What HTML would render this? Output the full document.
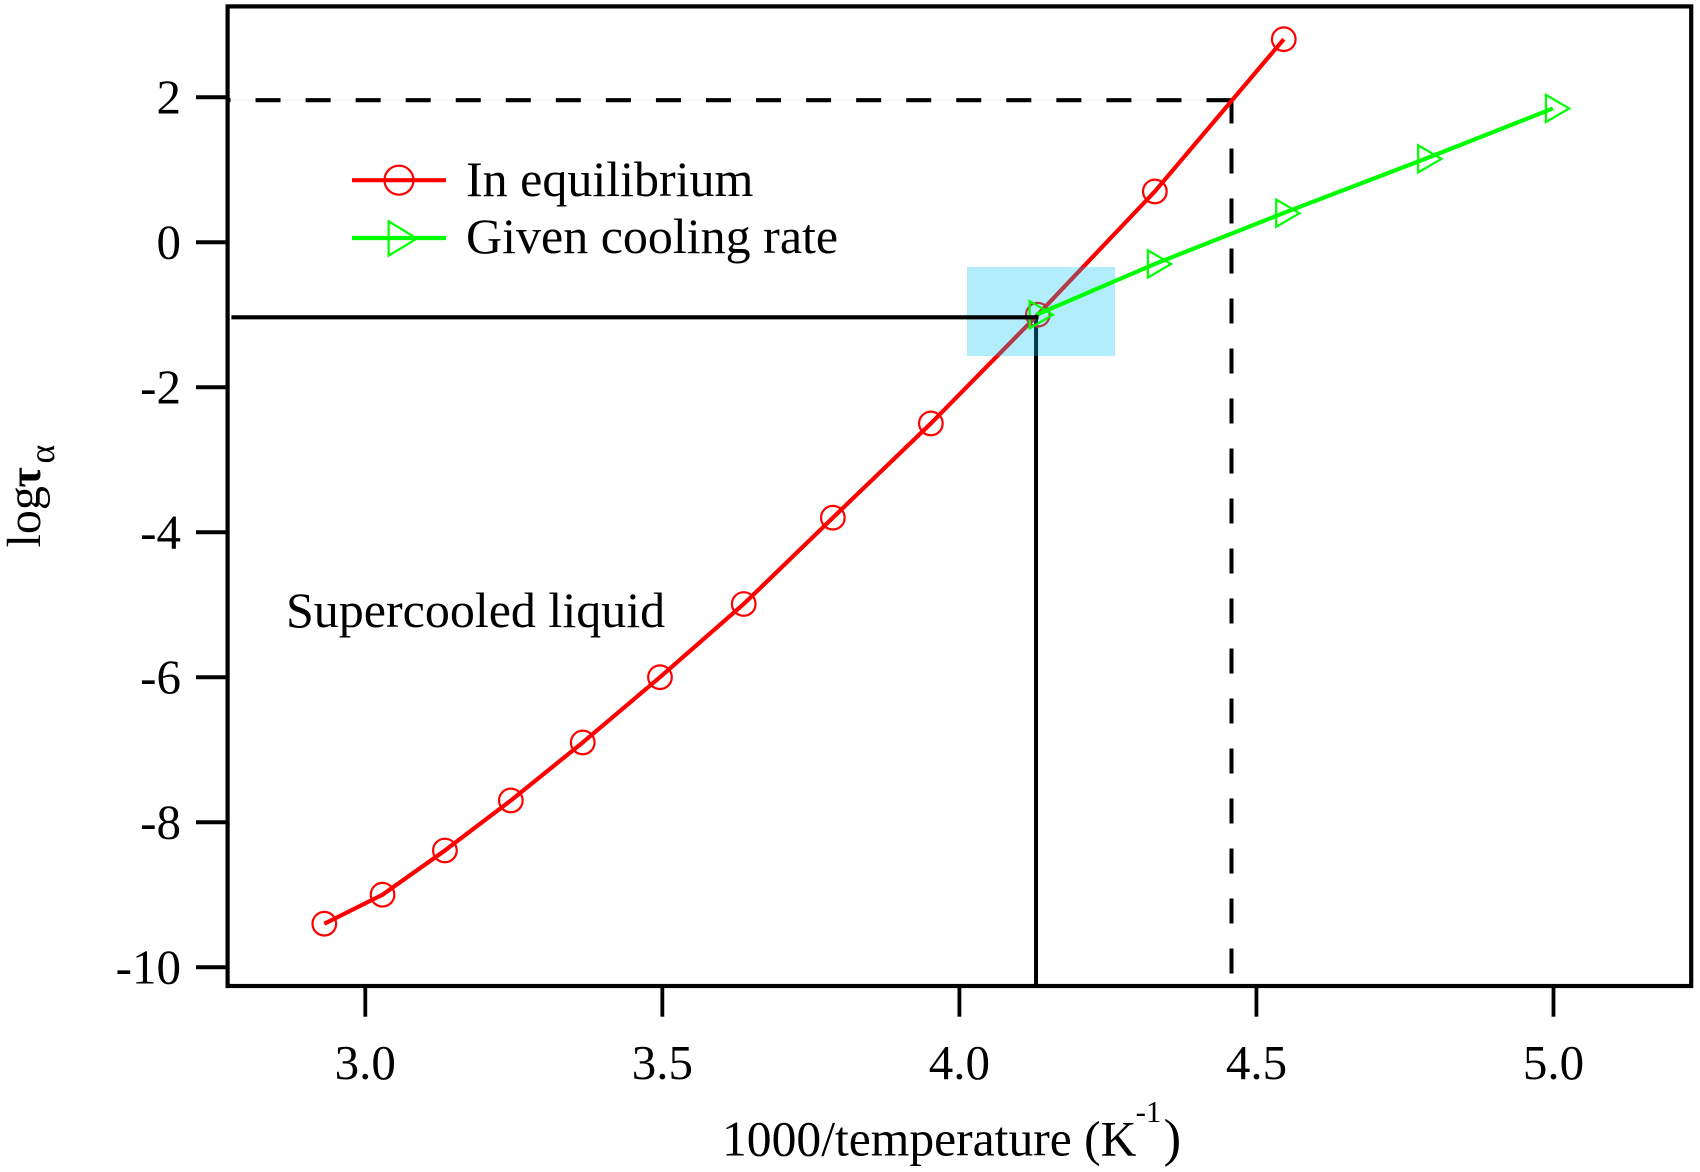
<!DOCTYPE html>
<html lang="en">
<head>
<meta charset="utf-8">
<title>log tau vs 1000/temperature</title>
<style>
  html, body { margin: 0; padding: 0; background: #fff; }
  svg { display: block; }
  text { font-family: "Liberation Serif", "DejaVu Serif", serif; fill: #000; }
</style>
</head>
<body>
<svg id="chart" xmlns="http://www.w3.org/2000/svg" width="1700" height="1172" viewBox="0 0 1700 1172">
  <rect x="0" y="0" width="1700" height="1172" fill="#fff"/>
  <g id="under"></g>
  <g id="over"></g>

  <rect x="227.6" y="6.4" width="1463.6" height="979.6" fill="none" stroke="#000" stroke-width="4.2"/>
  <g id="axes"></g>

  <text x="722" y="1155.5" font-size="49.6">1000/temperature (K</text>
  <text x="1135.6" y="1122" font-size="31">-1</text>
  <text x="1163.5" y="1155.5" font-size="53">)</text>

  <g transform="translate(40,547.5) rotate(-90)">
    <text x="0" y="0" font-size="48">log</text>
    <text x="60" y="0" font-size="44" font-weight="bold">τ</text>
    <text x="84" y="14" font-size="36">α</text>
  </g>

  <g>
    <g>
      <line x1="352" y1="180.2" x2="446" y2="180.2" stroke="#ff0000" stroke-width="4.2"/>
      <circle cx="399" cy="180.2" r="14.5" fill="none" stroke="#ff0000" stroke-width="2.2"/>
      <text x="466" y="196" font-size="50">In equilibrium</text>
    </g>
    <g>
      <line x1="352" y1="238" x2="446" y2="238" stroke="#00ff00" stroke-width="4.2"/>
      <polygon points="388.6,221.3 388.6,255.7 417,238.5" fill="none" stroke="#00ff00" stroke-width="2.2"/>
      <text x="466" y="253" font-size="50">Given cooling rate</text>
    </g>
  </g>

  <text x="286" y="626.8" font-size="50">Supercooled liquid</text>
</svg>

<script>
const xTicks = [3.0, 3.5, 4.0, 4.5, 5.0];
const xTickLabels = ["3.0", "3.5", "4.0", "4.5", "5.0"];
const yTicks = [2, 0, -2, -4, -6, -8, -10];
const yTickLabels = ["2", "0", "-2", "-4", "-6", "-8", "-10"];

const equilibriumX = [2.931, 3.029, 3.134, 3.245, 3.366, 3.496, 3.637, 3.787, 3.952, 4.132, 4.329, 4.546];
const equilibriumY = [-9.40, -9.00, -8.39, -7.70, -6.90, -6.00, -4.99, -3.80, -2.50, -1.00, 0.70, 2.80];
const coolingX = [4.130, 4.329, 4.545, 4.784, 4.999];
const coolingY = [-1.00, -0.30, 0.40, 1.149, 1.845];

const solidGuideX = 4.129;
const solidGuideY = -1.036;
const dashedGuideX = 4.458;
const dashedGuideY = 1.959;
const highlightX = [4.0128, 4.2619];
const highlightY = [-0.342, -1.570];

function sx(v) { return 365.3 + 594.1 * (v - 3); }
function sy(v) { return 242.2 - 72.5 * v; }

const NS = "http://www.w3.org/2000/svg";
function make(tag, parent, attrs) {
  const el = document.createElementNS(NS, tag);
  for (const k in attrs) el.setAttribute(k, attrs[k]);
  parent.appendChild(el);
  return el;
}

const under = document.getElementById("under");
const over = document.getElementById("over");
const axes = document.getElementById("axes");
const LEFT = 227.6, BOTTOM = 986;

/* solid vertical guide, below the highlight */
const solidV = make("line", under, { x1: sx(solidGuideX), y1: sy(solidGuideY), x2: sx(solidGuideX), y2: BOTTOM, stroke: "#000", "stroke-width": 4 });



/* dashed guides */
const hair = make("line", under, { x1: LEFT, y1: sy(dashedGuideY), x2: sx(dashedGuideX), y2: sy(dashedGuideY), stroke: "#eeeeee", "stroke-width": 1 });



const dashH = make("line", under, { x1: sx(dashedGuideX), y1: sy(dashedGuideY), x2: LEFT, y2: sy(dashedGuideY), stroke: "#000", "stroke-width": 4.2, "stroke-dasharray": "25 25.05" });



const dashV = make("line", under, { x1: sx(dashedGuideX), y1: sy(dashedGuideY) - 1.7, x2: sx(dashedGuideX), y2: 973.5, stroke: "#000", "stroke-width": 4, "stroke-dasharray": "25 25" });



/* equilibrium series */
const redPoints = equilibriumX.map(function (x, i) { return sx(x) + "," + sy(equilibriumY[i]); }).join(" ");
const redLine = make("polyline", under, { points: redPoints, fill: "none", stroke: "#ff0000", "stroke-width": 4.2, "stroke-linejoin": "round" });



equilibriumX.forEach(function (x, i) {
  const c = make("circle", under, { cx: sx(x), cy: sy(equilibriumY[i]), r: 11.8, fill: "none", stroke: "#ff0000", "stroke-width": 2.2 });
  
  
});

/* highlight rectangle tints what is under it */
const hl = make("rect", over, {
  x: sx(highlightX[0]), y: sy(highlightY[0]),
  width: sx(highlightX[1]) - sx(highlightX[0]),
  height: sy(highlightY[1]) - sy(highlightY[0]),
  fill: "rgb(0,197,243)", "fill-opacity": 0.3
});



/* cooling series */
const greenPoints = coolingX.map(function (x, i) { return sx(x) + "," + sy(coolingY[i]); }).join(" ");
const greenLine = make("polyline", over, { points: greenPoints, fill: "none", stroke: "#00ff00", "stroke-width": 4.2, "stroke-linejoin": "round" });



coolingX.forEach(function (x, i) {
  const px = sx(x), py = sy(coolingY[i]);
  const t = make("polygon", over, {
    points: (px - 7) + "," + (py - 13.6) + " " + (px - 7) + "," + (py + 13.6) + " " + (px + 16.3) + "," + py,
    fill: "none", stroke: "#00ff00", "stroke-width": 2.2
  });
  
  
});

/* solid horizontal guide, above the highlight */
const solidH = make("line", over, { x1: 231.4, y1: sy(solidGuideY), x2: sx(solidGuideX) + 2.5, y2: sy(solidGuideY), stroke: "#000", "stroke-width": 4.2 });



/* ticks and tick labels */
xTicks.forEach(function (v, i) {
  const tick = make("line", axes, { x1: sx(v), y1: BOTTOM, x2: sx(v), y2: 1016.7, stroke: "#000", "stroke-width": 3.8 });
  
  
  const label = make("text", axes, { x: sx(v), y: 1079, "font-size": 49, "text-anchor": "middle" });
  label.textContent = xTickLabels[i];
  
  
});

yTicks.forEach(function (v, i) {
  const tick = make("line", axes, { x1: 196, y1: sy(v), x2: LEFT, y2: sy(v), stroke: "#000", "stroke-width": 4 });
  
  
  const label = make("text", axes, { x: 181, y: sy(v) + 16.5, "font-size": 49, "text-anchor": "end" });
  label.textContent = yTickLabels[i];
  
  
});
</script>
</body>
</html>
